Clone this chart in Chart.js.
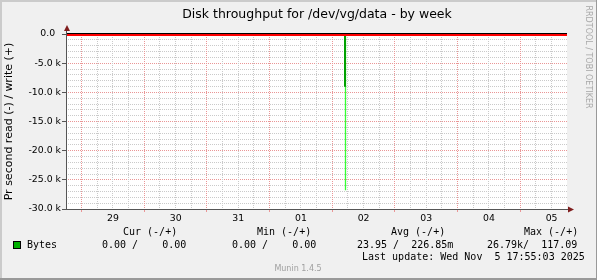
<!DOCTYPE html>
<html>
<head>
<meta charset="utf-8">
<title>Disk throughput for /dev/vg/data - by week</title>
<script src="https://cdn.jsdelivr.net/npm/chart.js@4.4.1/dist/chart.umd.min.js"></script>
<style>
  html, body { margin: 0; padding: 0; background: #f0f0f0; }
  #wrap { width: 597px; height: 280px; }
</style>
</head>
<body>
<div id="wrap"><canvas id="disk-chart" width="597" height="280"></canvas></div>
<script>
// Time axis, in hours since 28 Oct 00:00
const timeStart = 18.39;
const timeEnd = 209.9;
const dayLabels = ['29', '30', '31', '01', '02', '03', '04', '05'];
const dayNoons = [36, 60, 84, 108, 132, 156, 180, 204];

// Y axis
const yMajorTicks = [0, -5000, -10000, -15000, -20000, -25000, -30000];
const yTickLabels = ['0.0  ', '-5.0 k', '-10.0 k', '-15.0 k', '-20.0 k', '-25.0 k', '-30.0 k'];

// Series (read is drawn as negative)
const readTimes = [18.39, 124.87, 124.87, 124.87, 209.9];
const readAvg = [0, 0, -9030, 0, 0];
const readMaxTimes = [125.06, 125.06];
const readMax = [0, -26790];
const zeroTimes = [18.39, 209.9];
const zeroLine = [0, 0];

// Legend
const legendHeaders = ['Cur (-/+)', 'Min (-/+)', 'Avg (-/+)', 'Max (-/+)'];
const legendValues = ['0.00 /    0.00', '0.00 /    0.00', '23.95 /  226.85m', '26.79k/  117.09'];
const lastUpdate = 'Last update: Wed Nov  5 17:55:03 2025';

// Colors
const minorGrid = 'rgb(202,202,202)';
const majorGrid = 'rgb(234,150,150)';
const axisColor = '#555555';
const arrowColor = '#7f1d1d';

// Grid positions: every 6 hours, every 1000
const xTickValues = [];
for (let h = 24; h < timeEnd; h += 6) xTickValues.push(h);
const yTickValues = [];
for (let v = -30000; v <= 0; v += 1000) yTickValues.push(v);

const toPoints = (xs, ys) => xs.map((x, i) => ({ x, y: ys[i] }));

// rrdtool style dotted grid (1 on / 1 off), placed with the chart scales
const dottedGrid = {
  id: 'dottedGrid',
  beforeDatasetsDraw(chart) {
    const { ctx, chartArea: a } = chart;
    const x = chart.scales.x, y = chart.scales.y;
    const l = Math.round(a.left), r = Math.round(a.right), t = Math.round(a.top), b = Math.round(a.bottom);
    ctx.save();
    yTickValues.forEach(v => {
      const row = Math.floor(y.getPixelForValue(v));
      if (row <= t || row >= b) return;
      ctx.fillStyle = v % 5000 === 0 ? majorGrid : minorGrid;
      for (let c = l + 1; c < r; c += 2) ctx.fillRect(c, row, 1, 1);
    });
    xTickValues.forEach(h => {
      const col = Math.floor(x.getPixelForValue(h));
      ctx.fillStyle = h % 24 === 0 ? majorGrid : minorGrid;
      for (let p = t + 1; p < b; p += 2) ctx.fillRect(col, p, 1, 1);
    });
    ctx.restore();
  }
};

// Frame, axes, texts and arrows drawn around the plot
const muninFrame = {
  id: 'muninFrame',
  beforeDraw(chart) {
    const { ctx, chartArea: a } = chart;
    ctx.save();
    ctx.fillStyle = '#f0f0f0';
    ctx.fillRect(0, 0, 597, 280);
    ctx.fillStyle = '#cbcbcb';
    ctx.fillRect(0, 0, 597, 2);
    ctx.fillRect(0, 0, 2, 280);
    ctx.fillStyle = '#999999';
    ctx.fillRect(0, 278, 597, 2);
    ctx.fillRect(596, 0, 1, 280);
    ctx.fillStyle = '#ffffff';
    ctx.fillRect(a.left, a.top - 1, a.right - a.left, a.bottom - a.top + 1);
    ctx.restore();
  },
  afterDraw(chart) {
    const { ctx, chartArea: a } = chart;
    const x = chart.scales.x, y = chart.scales.y;
    const l = Math.round(a.left), r = Math.round(a.right), b = Math.round(a.bottom);
    ctx.save();

    // black line above zero line
    ctx.fillStyle = '#000';
    ctx.fillRect(l, Math.round(y.getPixelForValue(0)) - 1, r - l, 1);

    // axes and arrows
    ctx.fillStyle = axisColor;
    ctx.fillRect(l - 1, 30, 1, b - 29);
    ctx.fillRect(l - 1, b, r - l + 6, 1);
    ctx.fillStyle = arrowColor;
    ctx.beginPath();
    ctx.moveTo(l - 3, 31); ctx.lineTo(l + 3, 31); ctx.lineTo(l, 25);
    ctx.fill();
    ctx.beginPath();
    ctx.moveTo(r + 1, b - 2.5); ctx.lineTo(r + 1, b + 3.5); ctx.lineTo(r + 7, b + 0.5);
    ctx.fill();

    // major tick marks
    ctx.fillStyle = axisColor;
    yMajorTicks.forEach(v => {
      ctx.fillRect(l - 5, Math.floor(y.getPixelForValue(v)), 4, 1);
    });
    ctx.fillStyle = majorGrid;
    xTickValues.filter(h => h % 24 === 0).forEach(h => {
      ctx.fillRect(Math.floor(x.getPixelForValue(h)), b + 1, 1, 2);
    });

    // title
    ctx.fillStyle = '#000';
    ctx.font = '12.5px "DejaVu Sans"';
    ctx.textAlign = 'center';
    ctx.textBaseline = 'alphabetic';
    ctx.fillText('Disk throughput for /dev/vg/data - by week', (a.left + a.right) / 2, 18);

    // legend
    ctx.textAlign = 'left';
    ctx.textBaseline = 'middle';
    ctx.font = '10px "DejaVu Sans Mono"';
    const headX = [123, 257, 391, 524];
    const valX = [102, 232, 357, 487];
    legendHeaders.forEach((t, i) => ctx.fillText(t, headX[i], 232));
    ctx.fillText('Bytes', 27, 245);
    legendValues.forEach((t, i) => ctx.fillText(t, valX[i], 245));
    ctx.fillText(lastUpdate, 362, 257);
    ctx.fillStyle = '#00b000';
    ctx.fillRect(13, 241, 8, 8);
    ctx.strokeStyle = '#000';
    ctx.lineWidth = 1;
    ctx.strokeRect(13.5, 241.5, 7, 7);

    // credits
    ctx.fillStyle = '#a0a0a0';
    ctx.font = '8px "DejaVu Sans"';
    ctx.textAlign = 'center';
    ctx.fillText('Munin 1.4.5', 298, 269);
    ctx.fillStyle = '#a8a8a8';
    ctx.font = '8px "DejaVu Sans"';
    ctx.translate(588, 57);
    ctx.rotate(Math.PI / 2);
    ctx.fillText('RRDTOOL / TOBI OETIKER', 0, 0);
    ctx.restore();
  }
};

const tickFont = { family: 'DejaVu Sans', size: 9.33 };

new Chart(document.getElementById('disk-chart'), {
  type: 'line',
  data: {
    datasets: [
      // drawn 4px wide and clipped at the plot top, so 2px show under the top edge
      { label: 'zero', data: toPoints(zeroTimes, zeroLine), borderColor: '#ff0000', borderWidth: 4, order: 0 },
      { label: 'Bytes', data: toPoints(readTimes, readAvg), borderColor: '#00a000', borderWidth: 2, order: 1 },
      { label: 'Bytes max', data: toPoints(readMaxTimes, readMax), borderColor: '#33ff33', borderWidth: 1.3, order: 2 }
    ]
  },
  options: {
    responsive: false,
    animation: false,
    devicePixelRatio: 1,
    layout: { padding: { top: 34, right: 30, left: 0, bottom: 0 } },
    elements: { point: { radius: 0 }, line: { tension: 0 } },
    plugins: {
      legend: { display: false },
      title: { display: false },
      tooltip: { enabled: false }
    },
    scales: {
      x: {
        type: 'linear',
        min: timeStart,
        max: timeEnd,
        afterFit(scale) { scale.height = 71; },
        afterBuildTicks(scale) { scale.ticks = xTickValues.map(v => ({ value: v })); },
        ticks: {
          autoSkip: false,
          maxRotation: 0,
          padding: 4,
          color: '#000',
          font: tickFont,
          callback: v => {
            const i = dayNoons.indexOf(v);
            return i >= 0 ? dayLabels[i] : '';
          }
        },
        grid: { display: false, drawTicks: false },
        border: { display: false }
      },
      y: {
        min: -30000,
        max: 0,
        afterFit(scale) { scale.width = 67; },
        afterBuildTicks(scale) { scale.ticks = yTickValues.map(v => ({ value: v })); },
        ticks: {
          autoSkip: false,
          padding: 6,
          color: '#000',
          font: tickFont,
          callback: v => {
            const i = yMajorTicks.indexOf(v);
            return i >= 0 ? yTickLabels[i] : '';
          }
        },
        grid: { display: false, drawTicks: false },
        border: { display: false },
        title: {
          display: true,
          text: 'Pr second read (-) / write (+)',
          color: '#000',
          font: { family: 'DejaVu Sans', size: 11 },
          padding: { top: 3, bottom: 0 }
        }
      }
    }
  },
  plugins: [muninFrame, dottedGrid]
});
</script>
</body>
</html>
